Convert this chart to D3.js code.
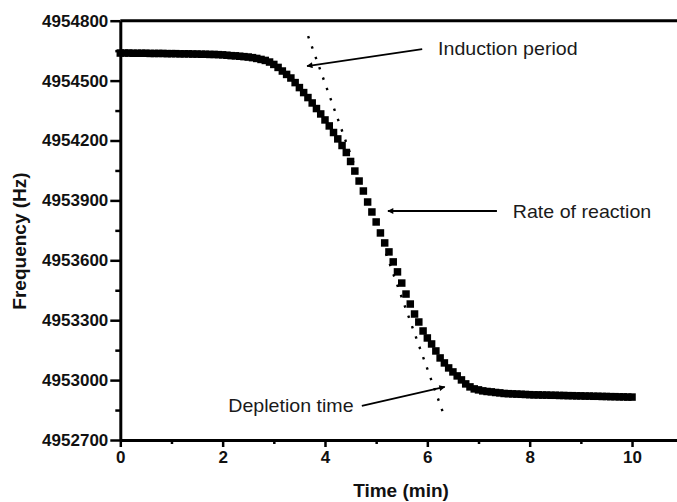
<!DOCTYPE html>
<html><head><meta charset="utf-8">
<script src="https://cdn.jsdelivr.net/npm/d3@7"></script>
<style>
html,body{margin:0;padding:0;background:#fff;}
svg{display:block;}
text{font-family:"Liberation Sans",Arial,sans-serif;}
</style></head>
<body>
<svg id="chart" width="677" height="502"></svg>
<script>
// ---- data ----
const sampleIntervalSec = 5;           // one reading every 5 s
const frequencyHz = [
 4954638,4954638,4954638,4954637,4954637,4954637,4954637,4954636,4954636,4954636,
 4954636,4954635,4954635,4954635,4954634,4954634,4954634,4954633,4954633,4954632,
 4954632,4954631,4954631,4954630,4954629,4954627,4954625,4954624,4954622,4954620,
 4954618,4954615,4954611,4954606,4954601,4954593,4954581,4954566,4954548,4954531,
 4954513,4954490,4954465,4954440,4954415,4954388,4954360,4954333,4954303,4954273,
 4954240,4954208,4954175,4954140,4954095,4954047,4953997,4953947,4953892,4953842,
 4953792,4953737,4953687,4953642,4953592,4953542,4953486,4953431,4953381,4953331,
 4953291,4953246,4953211,4953181,4953146,4953111,4953086,4953061,4953041,4953021,
 4953001,4952981,4952966,4952956,4952951,4952946,4952943,4952941,4952938,4952936,
 4952933,4952932,4952931,4952930,4952929,4952928,4952927,4952926,4952926,4952925,
 4952925,4952924,4952924,4952923,4952923,4952922,4952922,4952921,4952921,4952920,
 4952920,4952919,4952919,4952918,4952918,4952917,4952917,4952916,4952916,4952915,
 4952915
];
const xMajorTicks = [0, 2, 4, 6, 8, 10];
const xMinorTicks = [1, 3, 5, 7, 9, 11];
const yMajorTicks = [4952700, 4953000, 4953300, 4953600, 4953900, 4954200, 4954500, 4954800];
const yMinorTicks = [4952850, 4953150, 4953450, 4953750, 4954050, 4954350, 4954650];
const tangentTime = [3.67, 6.33];
const tangentFreq = [4954723, 4952820];
const annotationLabels = ["Induction period", "Rate of reaction", "Depletion time"];
const annotationTextAt = [[6.21, 4954628], [7.67, 4953812], [2.11, 4952838]];
const annotationArrowFrom = [[5.90, 4954658], [7.36, 4953847], [4.72, 4952871]];
const annotationArrowTo = [[3.65, 4954573], [5.23, 4953847], [6.34, 4952966]];
const xTitle = "Time (min)";
const yTitle = "Frequency (Hz)";

// ---- drawing ----
const svg = d3.select("#chart");
const x = d3.scaleLinear().domain([0, 11]).range([120.3, 683.2]);
const y = d3.scaleLinear().domain([4952700, 4954800]).range([440, 20.7]);
const points = frequencyHz.map((f, i) => ({t: i * sampleIntervalSec / 60, f}));

// tangent (dotted)
svg.append("line")
  .attr("x1", x(tangentTime[0])).attr("y1", y(tangentFreq[0]))
  .attr("x2", x(tangentTime[1])).attr("y2", y(tangentFreq[1]))
  .attr("stroke", "#000").attr("stroke-width", 2.4)
  .attr("stroke-dasharray", "2.4 8.6");

// markers
const sq = 7.5;
svg.append("g").selectAll("rect").data(points).join("rect")
  .attr("x", d => x(d.t) - sq / 2).attr("y", d => y(d.f) - sq / 2)
  .attr("width", sq).attr("height", sq).attr("fill", "#000");

// axes
const axisG = svg.append("g");
const fontTick = 17;
const gx = axisG.append("g").attr("transform", `translate(0,${y(4952700)})`)
  .call(d3.axisBottom(x).tickValues(xMajorTicks).tickSize(7).tickSizeOuter(0).tickPadding(4)
    .tickFormat(d3.format("d")));
gx.select(".domain").attr("stroke-width", 3);
gx.selectAll(".tick line").attr("stroke-width", 2.5);
gx.selectAll(".tick text").attr("font-size", fontTick).attr("font-weight", "bold").attr("fill", "#111");
const gxm = axisG.append("g").attr("transform", `translate(0,${y(4952700)})`)
  .call(d3.axisBottom(x).tickValues(xMinorTicks).tickSize(4).tickFormat(""));
gxm.select(".domain").remove();
gxm.selectAll(".tick line").attr("stroke-width", 2.5);

axisG.append("line").attr("x1", x(0)).attr("x2", 677).attr("y1", y(4954800)).attr("y2", y(4954800))
  .attr("stroke", "#000").attr("stroke-width", 3);

const gy = axisG.append("g").attr("transform", `translate(${x(0)},0)`)
  .call(d3.axisLeft(y).tickValues(yMajorTicks).tickSize(10).tickSizeOuter(0).tickPadding(2)
    .tickFormat(d3.format("d")));
gy.select(".domain").attr("stroke-width", 3);
gy.selectAll(".tick line").attr("stroke-width", 2.5);
gy.selectAll(".tick text").attr("font-size", fontTick).attr("font-weight", "bold").attr("fill", "#111");
const gym = axisG.append("g").attr("transform", `translate(${x(0)},0)`)
  .call(d3.axisLeft(y).tickValues(yMinorTicks).tickSize(5).tickFormat(""));
gym.select(".domain").remove();
gym.selectAll(".tick line").attr("stroke-width", 2.5);

svg.append("text").attr("x", 401).attr("y", 497).attr("text-anchor", "middle")
  .attr("font-size", 19).attr("font-weight", "bold").attr("fill", "#111").text(xTitle);
svg.append("text").attr("transform", "translate(26,241) rotate(-90)").attr("text-anchor", "middle")
  .attr("font-size", 19).attr("font-weight", "bold").attr("fill", "#111").text(yTitle);

svg.append("defs").append("marker").attr("id", "ah")
  .attr("viewBox", "0 0 10 10").attr("refX", 9).attr("refY", 5)
  .attr("markerWidth", 8).attr("markerHeight", 6).attr("markerUnits", "userSpaceOnUse")
  .attr("orient", "auto")
  .append("path").attr("d", "M0,0 L10,5 L0,10 Z").attr("fill", "#000");
annotationLabels.forEach((lab, i) => {
  svg.append("line")
    .attr("x1", x(annotationArrowFrom[i][0])).attr("y1", y(annotationArrowFrom[i][1]))
    .attr("x2", x(annotationArrowTo[i][0])).attr("y2", y(annotationArrowTo[i][1]))
    .attr("stroke", "#000").attr("stroke-width", 1.8).attr("marker-end", "url(#ah)");
  const tx = x(annotationTextAt[i][0]), ty = y(annotationTextAt[i][1]);
  svg.append("text").attr("transform", `translate(${tx},${ty}) scale(1.09,1)`)
    .attr("font-size", 18).attr("fill", "#1a1a1a").text(lab);
});
</script>
</body></html>
